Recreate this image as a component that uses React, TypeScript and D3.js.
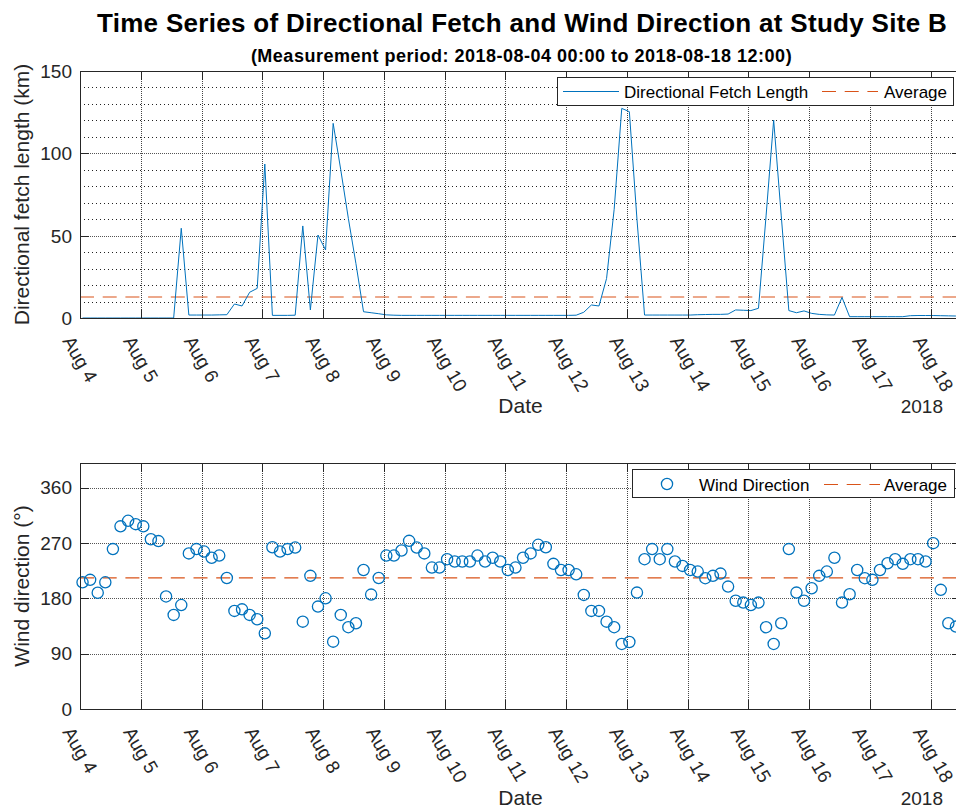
import React from "react";
import * as d3 from "d3";

// 3-hourly samples starting 2018-08-04 01:00
const START = new Date(2018, 7, 4, 1, 0);
const STEP_HOURS = 3;

const fetchKm: number[] = [
  0, 0, 0, 0, 0, 0, 0, 0, 0, 0,
  0, 0, 0, 54.5, 1.8, 1.8, 1.8, 1.8, 1.9, 2.0,
  8.5, 7.3, 15.6, 18.0, 93.5, 1.6, 1.6, 1.6, 1.7, 55.9,
  4.9, 50.4, 41.3, 118.2, 90.0, 60.5, 33.0, 3.8, 3.2, 2.6,
  1.9, 1.7, 1.6, 1.6, 1.6, 1.6, 1.6, 1.6, 1.6, 1.6,
  1.6, 1.6, 1.6, 1.6, 1.6, 1.6, 1.6, 1.6, 1.6, 1.6,
  1.6, 1.6, 1.6, 1.6, 1.6, 1.7, 3.5, 7.9, 7.3, 24.0,
  66.0, 127.3, 125.3, 60.0, 1.8, 1.8, 1.8, 1.8, 1.8, 1.8,
  1.8, 2.0, 2.1, 2.2, 2.2, 2.4, 4.9, 4.7, 4.5, 5.9,
  62.0, 120.2, 62.0, 4.5, 3.2, 4.3, 2.8, 2.2, 1.9, 1.8,
  12.5, 0.8, 0.8, 0.8, 0.8, 0.8, 0.8, 0.8, 0.8, 1.4,
  1.5, 1.5, 1.5, 1.4, 1.3, 1.2,
];

const windDir: number[] = [
  206, 210, 189, 206, 260, 297, 306, 300.6, 297, 276,
  273, 183, 153, 169, 253, 260, 256, 246, 249.5, 213,
  159.5, 162, 153, 146, 123, 263, 256, 260, 262.5, 142,
  216.5, 166.5, 180, 109.5, 153, 133, 139.5, 226, 186, 213,
  249.5, 249.5, 257.7, 273.4, 262.5, 253, 230, 230, 243.6, 239.8,
  239.8, 239.8, 249.5, 239.8, 246, 239.8, 226, 230, 246, 253,
  267, 263, 236, 226, 226, 219, 185.5, 159.5, 159.5, 142,
  133, 105.8, 109, 189.3, 243.6, 260, 243.6, 260, 239.8, 232.7,
  226, 223.5, 212.7, 216.5, 220.2, 199, 176, 173, 169, 173,
  133, 105.8, 139.5, 260, 189.3, 176, 196.4, 216.5, 223.5, 246,
  173, 186.6, 226, 212.7, 210, 226, 237, 243.6, 236, 243.6,
  243.6, 239.8, 269.7, 193.7, 139.5, 134,
];

const times: Date[] = fetchKm.map(
  (_, i) => new Date(START.getTime() + i * STEP_HOURS * 3600 * 1000)
);

const fetchTicks = [0, 50, 100, 150];
const fetchMinor = [10, 20, 30, 40, 60, 70, 80, 90, 110, 120, 130, 140];
const dirTicks = [0, 90, 180, 270, 360];

const TITLE = "Time Series of Directional Fetch and Wind Direction at Study Site B";
const SUBTITLE = "(Measurement period: 2018-08-04 00:00 to 2018-08-18 12:00)";

const FONT = "'Liberation Sans', Arial, Helvetica, sans-serif";
const AX = "#262626";
const BLUE = "#0072BD";
const ORANGE = "#D95319";

const W = 956;
const H = 809;
const PL = 80;
const PR = 961;

const xScale = d3
  .scaleTime()
  .domain([new Date(2018, 7, 4, 0, 0), new Date(2018, 7, 18, 12, 0)])
  .range([PL, PR]);

const dayTicks = d3.timeDay.range(new Date(2018, 7, 4), new Date(2018, 7, 18, 1));
const fmtDay = d3.timeFormat("%b %-d");

type PanelProps = {
  top: number;
  bottom: number;
  y: d3.ScaleLinear<number, number>;
  yTicks: number[];
  minor?: number[];
  children?: React.ReactNode;
};

function Panel({ top, bottom, y, yTicks, minor = [], children }: PanelProps) {
  const tickLen = 9;
  return (
    <g>
      {/* grid */}
      {minor.map((v) => (
        <line key={"m" + v} x1={PL} x2={PR} y1={Math.round(y(v)) + 0.5} y2={Math.round(y(v)) + 0.5}
          stroke="#222" strokeWidth={1} strokeDasharray="1,3" />
      ))}
      {yTicks.map((v) => (
        <line key={"g" + v} x1={PL} x2={PR} y1={Math.round(y(v)) + 0.5} y2={Math.round(y(v)) + 0.5}
          stroke="#555" strokeWidth={1} strokeDasharray="1,1" />
      ))}
      {dayTicks.map((d) => (
        <line key={"v" + d.getTime()} x1={Math.round(xScale(d)) + 0.5} x2={Math.round(xScale(d)) + 0.5}
          y1={top} y2={bottom} stroke="#444" strokeWidth={1} strokeDasharray="1,1" />
      ))}
      {children}
      {/* box */}
      <rect x={PL + 0.5} y={top + 0.5} width={PR - PL} height={bottom - top} fill="none" stroke={AX} strokeWidth={1} />
      {/* ticks */}
      {yTicks.map((v) => (
        <g key={"t" + v}>
          <line x1={PL} x2={PL + tickLen} y1={Math.round(y(v)) + 0.5} y2={Math.round(y(v)) + 0.5} stroke={AX} />
          <line x1={PR - tickLen} x2={PR} y1={Math.round(y(v)) + 0.5} y2={Math.round(y(v)) + 0.5} stroke={AX} />
          <text x={72} y={y(v)} dy="0.36em" textAnchor="end" fontSize={19} fill={AX} fontFamily={FONT}>
            {v}
          </text>
        </g>
      ))}
      {dayTicks.map((d) => {
        const x = Math.round(xScale(d)) + 0.5;
        return (
          <g key={"xt" + d.getTime()}>
            <line x1={x} x2={x} y1={bottom} y2={bottom - tickLen} stroke={AX} />
            <line x1={x} x2={x} y1={top} y2={top + tickLen} stroke={AX} />
            <text transform={`translate(${xScale(d)},${bottom}) rotate(60)`} x={10.9} y={27.1}
              fontSize={19} fill={AX} fontFamily={FONT}>
              {fmtDay(d)}
            </text>
          </g>
        );
      })}
    </g>
  );
}

export default function App() {
  // fetch panel
  const t0 = 71, t1 = 318;
  const yF = d3.scaleLinear().domain([0, 150]).range([t1, t0]);
  // direction panel
  const b0 = 463, b1 = 709;
  const yD = d3.scaleLinear().domain([0, 400]).range([b1, b0]);

  const fetchMean = d3.mean(fetchKm) ?? 0;
  const dirMean = d3.mean(windDir) ?? 0;

  const fetchLine = d3
    .line<number>()
    .x((_, i) => xScale(times[i]))
    .y((v) => yF(v));

  const dash = "14,8.7";

  return (
    <svg width={W} height={H} style={{ position: "absolute", left: 0, top: 0, background: "#fff" }}
      fontFamily={FONT}>
      <rect x={0} y={0} width={W} height={H} fill="#fff" />
      <text x={522} y={31.5} textAnchor="middle" fontSize={26} fontWeight="bold" letterSpacing={0.3} fill="#000">
        {TITLE}
      </text>
      <text x={521.5} y={62} textAnchor="middle" fontSize={18} fontWeight="bold" letterSpacing={0.5} fill="#000">
        {SUBTITLE}
      </text>

      <Panel top={t0} bottom={t1} y={yF} yTicks={fetchTicks} minor={fetchMinor}>
        <line x1={PL} x2={PR} y1={yF(fetchMean)} y2={yF(fetchMean)} stroke={ORANGE} strokeWidth={1.2}
          strokeDasharray={dash} />
        <path d={fetchLine(fetchKm) ?? ""} fill="none" stroke={BLUE} strokeWidth={1} />
      </Panel>
      <text transform={`translate(29,${(t0 + t1) / 2}) rotate(-90)`} textAnchor="middle" fontSize={21} fill={AX}>
        Directional fetch length (km)
      </text>
      <text x={520.5} y={413} textAnchor="middle" fontSize={21} fill={AX}>Date</text>
      <text x={943} y={413} textAnchor="end" fontSize={19} fill={AX}>2018</text>

      {/* fetch legend */}
      <g>
        <rect x={557.5} y={77.5} width={396} height={28} fill="#fff" stroke={AX} strokeWidth={1} />
        <line x1={563} x2={619} y1={91.5} y2={91.5} stroke={BLUE} strokeWidth={1} />
        <text x={624} y={98} fontSize={17} fill="#000">Directional Fetch Length</text>
        <line x1={822} x2={878} y1={91.5} y2={91.5} stroke={ORANGE} strokeWidth={1.2} strokeDasharray={dash} />
        <text x={884} y={98} fontSize={17} fill="#000">Average</text>
      </g>

      <Panel top={b0} bottom={b1} y={yD} yTicks={dirTicks}>
        <line x1={PL} x2={PR} y1={yD(dirMean)} y2={yD(dirMean)} stroke={ORANGE} strokeWidth={1.2}
          strokeDasharray={dash} />
        {windDir.map((v, i) => (
          <circle key={i} cx={xScale(times[i])} cy={yD(v)} r={5.6} fill="none" stroke={BLUE} strokeWidth={1.3} />
        ))}
      </Panel>
      <text transform={`translate(29,${(b0 + b1) / 2}) rotate(-90)`} textAnchor="middle" fontSize={21} fill={AX}>
        Wind direction (°)
      </text>
      <text x={520.5} y={805} textAnchor="middle" fontSize={21} fill={AX}>Date</text>
      <text x={943} y={805} textAnchor="end" fontSize={19} fill={AX}>2018</text>

      {/* direction legend */}
      <g>
        <rect x={632.5} y={469.5} width={322} height={28} fill="#fff" stroke={AX} strokeWidth={1} />
        <circle cx={667} cy={484} r={5.6} fill="none" stroke={BLUE} strokeWidth={1.3} />
        <text x={699} y={491} fontSize={17} fill="#000">Wind Direction</text>
        <line x1={824} x2={880} y1={484.5} y2={484.5} stroke={ORANGE} strokeWidth={1.2} strokeDasharray={dash} />
        <text x={884} y={491} fontSize={17} fill="#000">Average</text>
      </g>
    </svg>
  );
}
